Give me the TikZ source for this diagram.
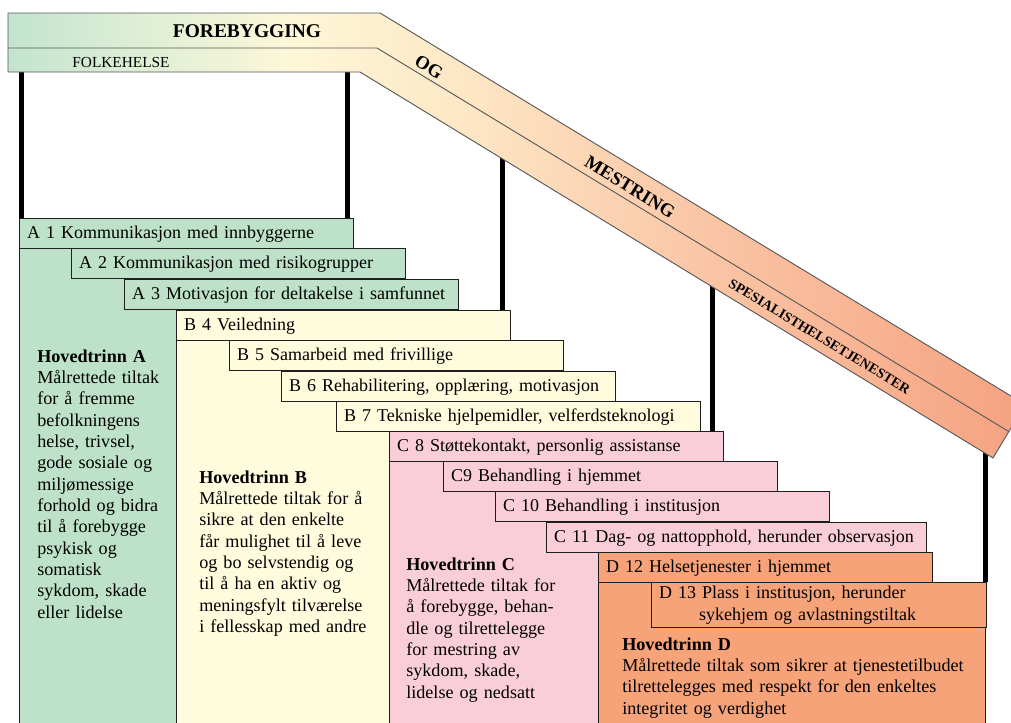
\documentclass[tikz,border=0pt]{standalone}
\usepackage{fontspec}
\setmainfont{Liberation Serif}
\usetikzlibrary{calc}

% stage colours
\definecolor{stageA}{RGB}{190,226,201}
\definecolor{stageB}{RGB}{255,251,221}
\definecolor{stageC}{RGB}{250,206,216}
\definecolor{stageD}{RGB}{246,163,122}
% roof band colours
\definecolor{bandgreen}{RGB}{194,228,207}
\definecolor{bandmint}{RGB}{220,238,212}
\definecolor{bandcream}{RGB}{253,247,216}
\definecolor{bandlight}{RGB}{253,232,198}
\definecolor{bandpeach}{RGB}{250,198,166}
\definecolor{bandsalmon}{RGB}{245,162,128}
\definecolor{edge}{RGB}{30,30,30}

\pgfdeclarehorizontalshading{bandshade}{100bp}{%
  color(0bp)=(bandgreen); color(25bp)=(bandgreen); color(31bp)=(bandmint);
  color(39bp)=(bandcream); color(47bp)=(bandlight); color(59bp)=(bandpeach);
  color(75bp)=(bandsalmon); color(100bp)=(bandsalmon)}

\newcommand{\lbl}[1]{\mbox{#1}}

\tikzset{
  stepbox/.style={draw=edge, line width=1.1pt, anchor=north west,
    minimum height=22.5pt, inner xsep=5.5pt, inner ysep=0pt, align=left,
    text width=239.25pt, font=\fontsize{13.5}{16.5}\selectfont},
  colbox/.style={draw=edge, line width=1.1pt, anchor=north west, inner sep=0pt},
  coltext/.style={anchor=base west, inner sep=0pt, align=left, text width=300pt,
    font=\fontsize{13.6}{16}\selectfont},
  post/.style={line width=3.75pt, black},
  bandline/.style={draw=black!65, line width=0.7pt, line join=miter},
  bandlabel/.style={inner sep=0pt, rotate=-31.26, font=\bfseries}
}

\begin{document}
\begin{tikzpicture}[x=0.75pt,y=-0.75pt]
\useasboundingbox (0,0) rectangle (1011,722);
\clip (0,0) rectangle (1011,722);

% main stage columns
\node[colbox, fill=stageA, minimum width=117.75pt, minimum height=361.5pt] (colA) at (19,248) {};
\node[colbox, fill=stageB, minimum width=159.75pt, minimum height=293.25pt] (colB) at (176,339) {};
\node[colbox, fill=stageC, minimum width=156.75pt, minimum height=202.5pt] (colC) at (389,460) {};
\node[colbox, fill=stageD, minimum width=290.25pt, minimum height=111pt] (colD) at (598,582) {};

% staircase of measures
\node[stepbox, fill=stageA] (a1) at (19,218) {\lbl{A 1 Kommunikasjon med innbyggerne}};
\node[stepbox, fill=stageA] (a2) at (71,248) {\lbl{A 2 Kommunikasjon med risikogrupper}};
\node[stepbox, fill=stageA] (a3) at (124,279) {\lbl{A 3 Motivasjon for deltakelse i samfunnet}};
\node[stepbox, fill=stageB] (b4) at (176,310) {\lbl{B 4 Veiledning}};
\node[stepbox, fill=stageB] (b5) at (229,340) {\lbl{B 5 Samarbeid med frivillige}};
\node[stepbox, fill=stageB] (b6) at (281,371) {\lbl{B 6 Rehabilitering, opplæring, motivasjon}};
\node[stepbox, fill=stageB, text width=261.75pt] (b7) at (336,401) {\lbl{B 7 Tekniske hjelpemidler, velferdsteknologi}};
\node[stepbox, fill=stageC] (c8) at (389,431) {\lbl{C 8 Støttekontakt, personlig assistanse}};
\node[stepbox, fill=stageC] (c9) at (443,461) {\lbl{C9 Behandling i hjemmet}};
\node[stepbox, fill=stageC] (c10) at (495,491) {\lbl{C 10 Behandling i institusjon}};
\node[stepbox, fill=stageC, text width=273.75pt] (c11) at (546,522) {\lbl{C 11 Dag- og nattopphold, herunder observasjon}};
\node[stepbox, fill=stageD] (d12) at (598,552) {\lbl{D 12 Helsetjenester i hjemmet}};
\node[stepbox, fill=stageD, text width=240pt, minimum height=33.75pt] (d13) at (651,582)
  {\lbl{D 13 Plass i institusjon, herunder}\\\hspace*{30pt}\lbl{sykehjem og avlastningstiltak}};

% stage descriptions
\node[coltext] (tA) at (37,362) {\textbf{Hovedtrinn A}\\Målrettede tiltak\\for å fremme\\befolkningens\\helse, trivsel,\\gode sosiale og\\miljømessige\\forhold og bidra\\til å forebygge\\psykisk og\\somatisk\\sykdom, skade\\eller lidelse};
\node[coltext] (tB) at (199,483) {\textbf{Hovedtrinn B}\\Målrettede tiltak for å\\sikre at den enkelte\\får mulighet til å leve\\og bo selvstendig og\\til å ha en aktiv og\\meningsfylt tilværelse\\i fellesskap med andre};
\node[coltext] (tC) at (406,570) {\textbf{Hovedtrinn C}\\Målrettede tiltak for\\å forebygge, behan-\\dle og tilrettelegge\\for mestring av\\sykdom, skade,\\lidelse og nedsatt};
\node[coltext] (tD) at (622,650) {\textbf{Hovedtrinn D}\\Målrettede tiltak som sikrer at tjenestetilbudet\\tilrettelegges med respekt for den enkeltes\\integritet og verdighet};

% supporting posts under the roof
\coordinate (p1) at (21,60);
\coordinate (p2) at (347,60);
\coordinate (p3) at (502,150);
\coordinate (p4) at (712,275);
\coordinate (p5) at (985,440);
\draw[post] (p1) -- (p1 |- a1.north);
\draw[post] (p2) -- (p2 |- a1.north);
\draw[post] (p3) -- (p3 |- b4.north);
\draw[post] (p4) -- (p4 |- c8.north);
\draw[post] (p5) -- (p5 |- d13.north);

% roof band
\coordinate (tl) at (8,13);
\coordinate (tk) at (380,13);
\coordinate (te) at (1025,404.5);
\coordinate (be) at (993,458);
\coordinate (bk) at (360,72);
\coordinate (bl) at (8,72);
\coordinate (ml) at (8,48);
\coordinate (mk) at (377,48);
\coordinate (me) at (1009,431.7);
\shade[shading=bandshade] (tl) -- (tk) -- (te) -- (be) -- (bk) -- (bl) -- cycle;
\draw[bandline] (tl) -- (tk) -- (te) -- (be) -- (bk) -- (bl) -- cycle;
\draw[bandline] (ml) -- (mk) -- (me);

\node[inner sep=0pt, font=\fontsize{14.6}{16}\selectfont\bfseries] (forebygging) at (247,31) {FOREBYGGING};
\node[inner sep=0pt, font=\fontsize{11.5}{13}\selectfont] (folkehelse) at (121,62) {FOLKEHELSE};
\node[bandlabel, font=\fontsize{14}{16}\selectfont\bfseries] (og) at (429,67) {OG};
\node[bandlabel, font=\fontsize{14}{16}\selectfont\bfseries] (mestring) at (630,187) {MESTRING};
\node[bandlabel, font=\fontsize{10.5}{12}\selectfont\bfseries] (spes) at (819.5,336.5) {SPESIALISTHELSETJENESTER};
\end{tikzpicture}
\end{document}
